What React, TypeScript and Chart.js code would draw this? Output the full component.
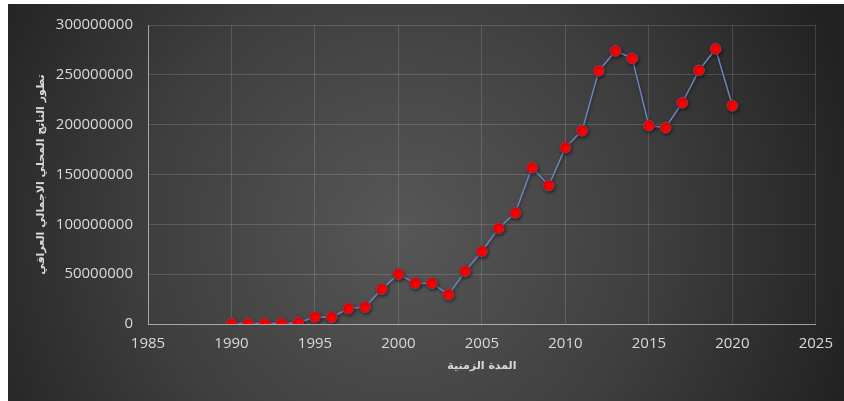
import React, { useEffect, useRef } from "react";
import { Chart, registerables } from "chart.js";

Chart.register(...registerables);

const years: number[] = [
  1990, 1991, 1992, 1993, 1994, 1995, 1996, 1997, 1998, 1999, 2000,
  2001, 2002, 2003, 2004, 2005, 2006, 2007, 2008, 2009, 2010,
  2011, 2012, 2013, 2014, 2015, 2016, 2017, 2018, 2019, 2020,
];

const gdpValues: number[] = [
  300000, 400000, 500000, 600000, 1200000, 7000000, 6800000, 15500000, 17000000, 35000000, 50000000,
  41000000, 41000000, 29500000, 53000000, 73000000, 96000000, 111500000, 157000000, 139000000, 177000000,
  194000000, 254000000, 274000000, 266500000, 199000000, 197000000, 222000000, 254500000, 276000000, 219000000,
];

const xTicksRange = { min: 1985, max: 2025, step: 5 };
const yTicksRange = { min: 0, max: 300000000, step: 50000000 };

const yTitle = "تطور الناتج المحلي الاجمالي العراقي";
const xTitle = "المدة الزمنية";

const bgPlugin = {
  id: "bgPlugin",
  beforeDraw(chart: any) {
    const { ctx, width, height } = chart;
    ctx.save();
    ctx.fillStyle = "#ffffff";
    ctx.fillRect(0, 0, width, height);
    const g = ctx.createRadialGradient(400, 230, 0, 400, 230, 470);
    g.addColorStop(0, "#575757");
    g.addColorStop(0.55, "#3e3e3e");
    g.addColorStop(1, "#222222");
    ctx.fillStyle = g;
    ctx.fillRect(8, 4, width - 8, height - 4);
    ctx.restore();
  },
  beforeDatasetsDraw(chart: any) {
    const ctx = chart.ctx;
    ctx.save();
    ctx.shadowColor = "rgba(0,0,0,0.45)";
    ctx.shadowBlur = 3;
    ctx.shadowOffsetX = 1;
    ctx.shadowOffsetY = 1.5;
  },
  afterDatasetsDraw(chart: any) {
    chart.ctx.restore();
  },
};

export default function App() {
  const ref = useRef<HTMLCanvasElement | null>(null);

  useEffect(() => {
    if (!ref.current) return;
    const tickFont = { family: "'Open Sans', 'DejaVu Sans', sans-serif", size: 15 };
    const titleFont = { family: "'DejaVu Sans', sans-serif", size: 11, weight: "bold" as const };
    const chart = new Chart(ref.current, {
      type: "line",
      data: {
        datasets: [
          {
            data: years.map((y, i) => ({ x: y, y: gdpValues[i] })),
            borderColor: "#6a86bb",
            borderWidth: 1.5,
            pointBackgroundColor: "#ff0000",
            pointBorderColor: "#8a3a55",
            pointBorderWidth: 1,
            pointRadius: 5.5,
            tension: 0,
          },
        ],
      },
      options: {
        animation: false,
        responsive: false,
        maintainAspectRatio: false,
        layout: { padding: { left: 0, top: 25, right: 27, bottom: 0 } },
        plugins: { legend: { display: false }, tooltip: { enabled: false } },
        scales: {
          x: {
            type: "linear",
            min: xTicksRange.min,
            max: xTicksRange.max,
            afterFit(scale: any) {
              scale.height = 77;
            },
            ticks: {
              stepSize: xTicksRange.step,
              color: "#d9d9d9",
              font: tickFont,
              padding: 11,
              maxRotation: 0,
              callback: (v: any) => String(v),
            },
            grid: {
              color: "rgba(255,255,255,0.14)",
              drawTicks: false,
            },
            border: { color: "rgba(220,220,220,0.6)", width: 1 },
            title: {
              display: true,
              text: xTitle,
              color: "#d9d9d9",
              font: titleFont,
              padding: { top: 0, bottom: 28 },
            },
          },
          y: {
            type: "linear",
            min: yTicksRange.min,
            max: yTicksRange.max,
            afterFit(scale: any) {
              scale.width = 148;
            },
            ticks: {
              stepSize: yTicksRange.step,
              color: "#d9d9d9",
              font: tickFont,
              padding: 15,
              callback: (v: any) => String(v),
            },
            grid: {
              color: "rgba(255,255,255,0.14)",
              drawTicks: false,
            },
            border: { color: "rgba(220,220,220,0.6)", width: 1 },
            title: {
              display: true,
              text: yTitle,
              color: "#d9d9d9",
              font: titleFont,
              padding: { top: 35, bottom: 0 },
            },
          },
        },
      },
      plugins: [bgPlugin],
    });
    return () => chart.destroy();
  }, []);

  return (
    <div style={{ position: "fixed", left: 0, top: 0, width: 844, height: 401 }}>
      <canvas ref={ref} width={844} height={401} style={{ display: "block" }} />
    </div>
  );
}
